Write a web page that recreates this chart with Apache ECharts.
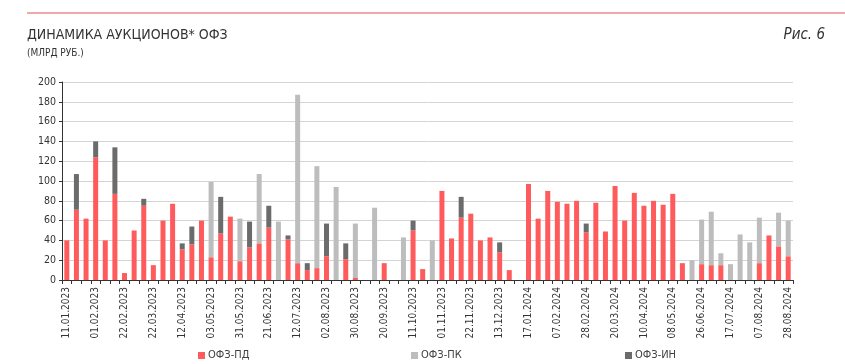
<!DOCTYPE html>
<html><head><meta charset="utf-8">
<script src="https://cdn.jsdelivr.net/npm/echarts@6/dist/echarts.min.js"></script>
<style>html,body{margin:0;padding:0;background:#fff}#c{width:845px;height:364px}</style>
</head><body><div id="c"></div>
<script>
const categories = ['11.01.2023','18.01.2023','25.01.2023','01.02.2023','08.02.2023','15.02.2023','22.02.2023','01.03.2023','15.03.2023','22.03.2023',
'29.03.2023','05.04.2023','12.04.2023','19.04.2023','26.04.2023','03.05.2023','17.05.2023','24.05.2023','31.05.2023','07.06.2023',
'14.06.2023','21.06.2023','28.06.2023','05.07.2023','12.07.2023','19.07.2023','26.07.2023','02.08.2023','09.08.2023','23.08.2023',
'30.08.2023','06.09.2023','13.09.2023','20.09.2023','27.09.2023','04.10.2023','11.10.2023','18.10.2023','25.10.2023','01.11.2023',
'08.11.2023','15.11.2023','22.11.2023','29.11.2023','06.12.2023','13.12.2023','20.12.2023','27.12.2023','17.01.2024','24.01.2024',
'31.01.2024','07.02.2024','14.02.2024','21.02.2024','28.02.2024','06.03.2024','13.03.2024','20.03.2024','27.03.2024','03.04.2024',
'10.04.2024','17.04.2024','24.04.2024','08.05.2024','15.05.2024','05.06.2024','26.06.2024','03.07.2024','10.07.2024','17.07.2024',
'24.07.2024','31.07.2024','07.08.2024','14.08.2024','21.08.2024','28.08.2024'];

const ofzPD = [40,71,62,124,40,87,7,50,75,15,
60,77,31,36,60,23,47,64,19,33,
37,53,0,41,17,10,12,24,0,21,
2,0,0,17,0,0,50,11,0,90,
42,63,67,40,43,28,10,0,97,62,
90,79,77,80,48,78,49,95,60,88,
75,80,76,87,17,0,16,15,15,0,
0,0,17,45,34,24];

const ofzPK = [0,0,0,0,0,0,0,0,0,0,
0,0,0,0,0,76,0,0,43,0,
70,0,59,0,170,0,103,0,94,0,
55,0,73,0,0,43,0,0,40,0,
0,0,0,0,0,0,0,0,0,0,
0,0,0,0,0,0,0,0,0,0,
0,0,0,0,0,20,45,54,12,16,
46,38,46,0,34,36];

const ofzIN = [0,36,0,16,0,47,0,0,7,0,
0,0,6,18,0,0,37,0,0,26,
0,22,0,4,0,7,0,33,0,16,
0,0,0,0,0,0,10,0,0,0,
0,21,0,0,0,10,0,0,0,0,
0,0,0,0,9,0,0,0,0,0,
0,0,0,0,0,0,0,0,0,0,
0,0,0,0,0,0];

const yTicks = {min:0, max:200, interval:20};
const seriesNames = ['ОФЗ-ПД','ОФЗ-ПК','ОФЗ-ИН'];
const colors = ['#ff5a5c','#bdbdbd','#6b6b6b'];

const chart = echarts.init(document.getElementById('c'), null, {renderer:'canvas'});
const font = '"Liberation Sans Narrow","DejaVu Sans Condensed","Liberation Sans",sans-serif';
const txt = '#404040';
const legendPos = [193, 406, 620];
chart.setOption({
  animation:false,
  textStyle:{fontFamily:font},
  title:[
    {text:'ДИНАМИКА АУКЦИОНОВ* ОФЗ', left:22, top:23, textStyle:{fontFamily:font, fontSize:14, fontWeight:'normal', color:'#333333'}},
    {text:'(МЛРД РУБ.)', left:22, top:43, textStyle:{fontFamily:font, fontSize:10, fontWeight:'normal', color:'#333333'}},
    {text:'Рис. 6', right:15, top:23, textStyle:{fontFamily:font, fontSize:15, fontWeight:'normal', fontStyle:'italic', color:'#333333'}}
  ],
  graphic:[{type:'line', shape:{x1:27,y1:13,x2:845,y2:13}, style:{stroke:'#e0505c', lineWidth:1}}],
  legend: seriesNames.map((n,i)=>({data:[n], left:legendPos[i], top:345, itemWidth:7, itemHeight:7, icon:'rect', itemGap:5,
    textStyle:{fontFamily:font, fontSize:11, color:txt, padding:[0,0,0,-2]}})),
  grid:{left:62, right:52, top:82, bottom:84, containLabel:false},
  xAxis:{type:'category', data:categories,
    axisLine:{lineStyle:{color:'#333', width:1}},
    axisTick:{show:true, interval:0, length:4, lineStyle:{color:'#333'}},
    axisLabel:{interval:2, rotate:90, fontFamily:font, fontSize:10, color:'#333', margin:7}},
  yAxis:{type:'value', min:yTicks.min, max:yTicks.max, interval:yTicks.interval,
    axisLine:{show:true, lineStyle:{color:'#333'}},
    axisTick:{show:true, length:3, lineStyle:{color:'#333'}},
    splitLine:{lineStyle:{color:'#d4d4d4', width:1}},
    axisLabel:{fontFamily:font, fontSize:10.5, color:'#333', margin:6}},
  series:[ofzPD, ofzPK, ofzIN].map((d,i)=>({name:seriesNames[i], type:'bar', stack:'a', data:d, barWidth:5,
    itemStyle:{color:colors[i]}}))
});
</script></body></html>
